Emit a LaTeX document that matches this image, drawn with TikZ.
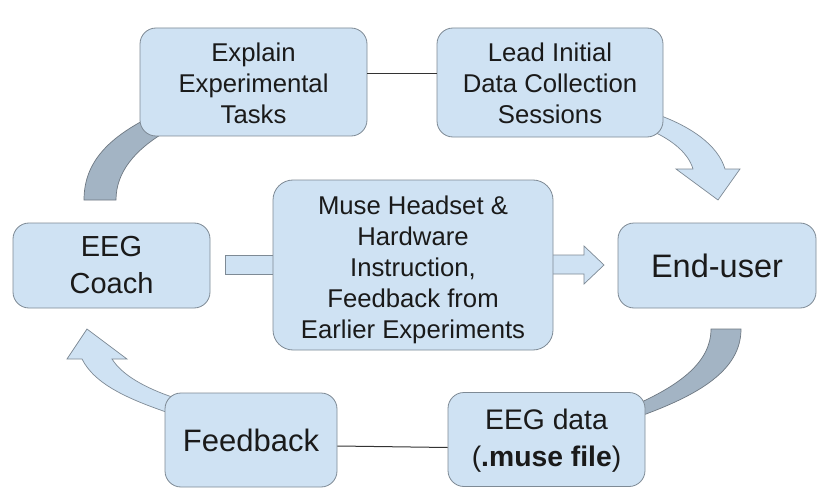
\documentclass[tikz,border=0pt]{standalone}
\usepackage{fontspec}
\setmainfont{Liberation Sans}
\definecolor{boxfill}{HTML}{CFE2F3}
\definecolor{boxline}{HTML}{7E8A95}
\definecolor{bandfill}{HTML}{A3B4C4}
\definecolor{bandline}{HTML}{6E7882}
\definecolor{txt}{HTML}{1A1A1A}
\newcommand{\lowerby}[2]{\raisebox{-#1}[\height][\depth]{\begin{tabular}{@{}c@{}}#2\end{tabular}}}
\tikzset{
  box/.style={draw=boxline, fill=boxfill, line width=0.8pt, rounded corners=16pt,
    inner sep=0pt, align=center, text=txt},
  lightarrow/.style={draw=boxline, fill=boxfill, line width=0.7pt, line join=miter},
  band/.style={draw=bandline, fill=bandfill, line width=0.7pt},
  conn/.style={draw=black!80, line width=1pt},
  fmid/.style={font=\fontsize{25.7}{31}\selectfont},
  fbig/.style={font=\fontsize{29}{37}\selectfont},
}
\begin{document}
\begin{tikzpicture}[x=1pt,y=-1pt]
\useasboundingbox (0,0) rectangle (831,495);
\fill[white] (0,0) rectangle (831,495);

% curved band: EEG Coach -> Explain (gray)
\path[band] (84,200) .. controls (84,165) and (105,140) .. (148,118)
  -- (165,132) .. controls (135,150) and (116,172) .. (116,200) -- cycle;
% curved arrow: Lead -> End-user
\path[lightarrow] (650,112) .. controls (690,125) and (718,145) .. (725,169)
  -- (740,169) -- (718,200) -- (676,169) -- (693,169)
  .. controls (688,152) and (670,138) .. (645,128) -- cycle;
% curved band: End-user -> EEG data (gray)
\path[band] (741,329) .. controls (741,370) and (700,395) .. (635,418)
  -- (635,405) .. controls (680,385) and (711,362) .. (711,329) -- cycle;
% curved arrow: Feedback -> EEG Coach
\path[lightarrow] (175,415) .. controls (130,400) and (95,385) .. (82,359)
  -- (67,359) -- (87,329) -- (127,359) -- (112,359)
  .. controls (122,375) and (145,388) .. (175,398) -- cycle;
% straight block arrows through the middle box
\path[lightarrow] (225,255) rectangle (285,274);
\path[lightarrow] (540,255) -- (584,255) -- (584,246) -- (604,265) -- (584,284)
  -- (584,274) -- (540,274) -- cycle;

% boxes
\node[box, fmid, minimum width=227pt, minimum height=108pt] (explain) at (253.5,82)
  {\lowerby{4.5pt}{Explain\\Experimental\\Tasks}};
\node[box, fmid, minimum width=226pt, minimum height=109pt] (lead) at (550,82.5)
  {\lowerby{4pt}{Lead Initial\\Data Collection\\Sessions}};
\node[box, fbig, minimum width=197pt, minimum height=85pt] (coach) at (111.5,265.5)
  {\lowerby{2pt}{EEG\\Coach}};
\node[box, fmid, minimum width=280pt, minimum height=170pt, rounded corners=20pt] (middle) at (413,265)
  {\lowerby{5pt}{Muse Headset \&\\Hardware\\Instruction,\\Feedback from\\Earlier Experiments}};
\node[box, font=\fontsize{32.5}{38}\selectfont, minimum width=198pt, minimum height=85pt] (enduser) at (717,265.5)
  {End-user};
\node[box, font=\fontsize{31}{36}\selectfont, minimum width=172pt, minimum height=94pt] (feedback) at (251,440)
  {Feedback};
\node[box, font=\fontsize{28.3}{37}\selectfont, minimum width=197pt, minimum height=94pt] (eegdata) at (546.5,439.5)
  {\lowerby{1pt}{EEG data\\(\textbf{.muse file})}};

% thin connectors
\draw[conn] ([yshift=8pt]explain.east) -- ([yshift=8.5pt]lead.west);
\draw[conn] ([yshift=-6pt]feedback.east) -- ([yshift=-8pt]eegdata.west);
\end{tikzpicture}
\end{document}
